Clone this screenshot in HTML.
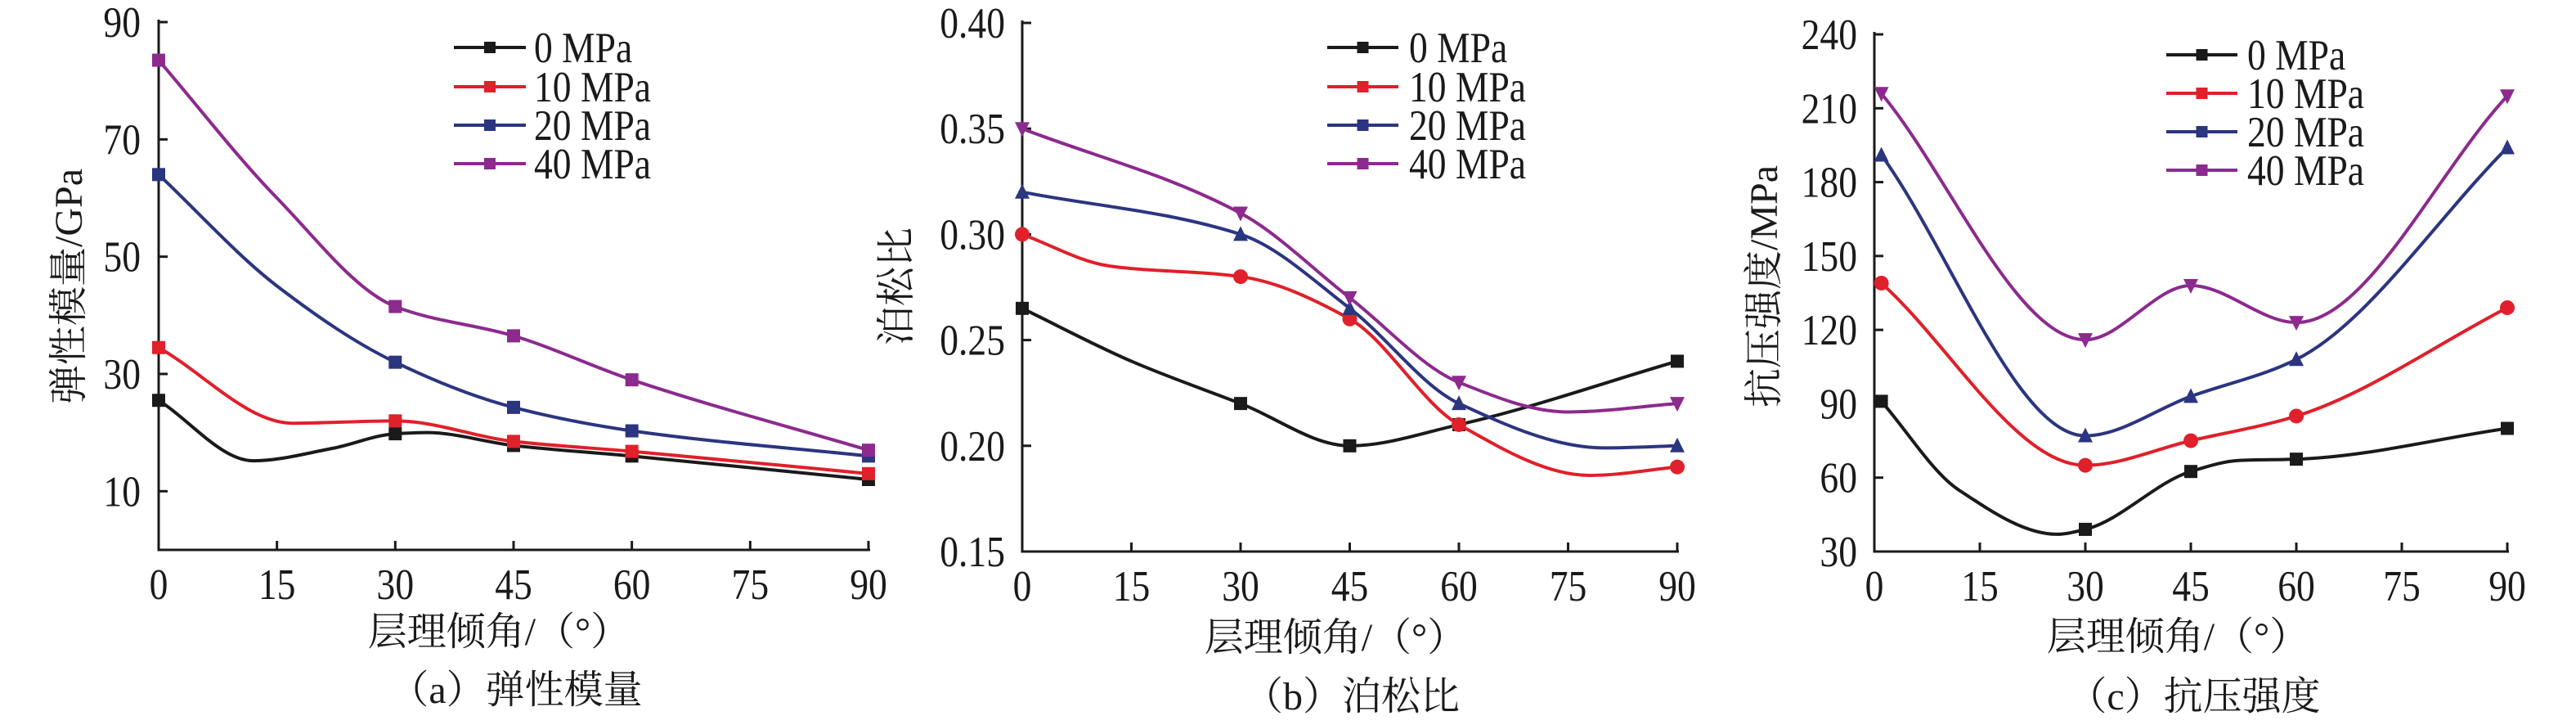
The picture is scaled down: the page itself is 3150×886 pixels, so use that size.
<!DOCTYPE html>
<html><head><meta charset="utf-8">
<style>
html,body{margin:0;padding:0;background:#fff;}
svg{display:block;}
text{font-family:"Liberation Serif","Noto Serif CJK SC",serif;fill:#1a1a1a;}
</style></head>
<body>
<svg id="s" width="3150" height="886" xmlns="http://www.w3.org/2000/svg"></svg>
<script>
const S=document.getElementById('s');
const C=['#1a1a1a','#e0202a','#2b3580','#8c2a8e'];
const names=['0 MPa','10 MPa','20 MPa','40 MPa'];
let h='';
function mono(pts){
  const n=pts.length,dx=[],m=[],t=[];
  for(let i=0;i<n-1;i++){dx[i]=pts[i+1][0]-pts[i][0];m[i]=(pts[i+1][1]-pts[i][1])/dx[i];}
  t[0]=m[0];t[n-1]=m[n-2];
  for(let i=1;i<n-1;i++){
    if(m[i-1]*m[i]<=0)t[i]=0;
    else{const w1=2*dx[i]+dx[i-1],w2=dx[i]+2*dx[i-1];t[i]=(w1+w2)/(w1/m[i-1]+w2/m[i]);}
  }
  let d='M'+pts[0][0]+','+pts[0][1];
  for(let i=0;i<n-1;i++){
    const a=pts[i],b=pts[i+1],q=dx[i]/3;
    d+=' C'+(a[0]+q)+','+(a[1]+t[i]*q)+' '+(b[0]-q)+','+(b[1]-t[i+1]*q)+' '+b[0]+','+b[1];
  }
  return d;
}
function marker(x,y,type,c){
  if(type==='s')return `<rect x="${x-8}" y="${y-8}" width="16" height="16" fill="${c}"/>`;
  if(type==='c')return `<circle cx="${x}" cy="${y}" r="9" fill="${c}"/>`;
  if(type==='u')return `<polygon points="${x},${y-10} ${x-9},${y+8} ${x+9},${y+8}" fill="${c}"/>`;
  return `<polygon points="${x},${y+10} ${x-9},${y-8} ${x+9},${y-8}" fill="${c}"/>`;
}
const K=0.86;
function num(x,y,s,anchor){return `<text transform="scale(${K},1)" x="${x/K}" y="${y}" font-size="53" text-anchor="${anchor}">${s}</text>`;}
function panel(o){
  const X=v=>o.x0+(v-o.xmin)*(o.x1-o.x0)/90;
  const Y=v=>o.yb+(v-o.ymin)*(o.yt-o.yb)/(o.ymax-o.ymin);
  h+=`<path d="M${o.x0},${o.yt-3} V${o.yb} H${o.x1+2}" fill="none" stroke="#1a1a1a" stroke-width="3"/>`;
  for(let v=0;v<=90;v+=15){const x=X(v);h+=`<line x1="${x}" y1="${o.yb}" x2="${x}" y2="${o.yb-11}" stroke="#1a1a1a" stroke-width="3"/>`;
    h+=num(x,o.yb+60,v,'middle');}
  o.yticks.forEach(v=>{const y=Y(v);h+=`<line x1="${o.x0}" y1="${y}" x2="${o.x0+11}" y2="${y}" stroke="#1a1a1a" stroke-width="3"/>`;
    h+=num(o.ylx,y+18,o.fmt(v),'end');});
  o.series.forEach((s,i)=>{
    const pts=s.map(p=>[X(p[0]),Y(p[1])]);
    h+=`<path d="${mono(pts)}" fill="none" stroke="${C[i]}" stroke-width="4"/>`;
    s.forEach(p=>{if(!p[2])h+=marker(X(p[0]),Y(p[1]),o.mk[i],C[i]);});
  });
  o.lrows.forEach((y,i)=>{
    h+=`<line x1="${o.lx0}" y1="${y}" x2="${o.lx1}" y2="${y}" stroke="${C[i]}" stroke-width="4"/>`;
    h+=`<rect x="${(o.lx0+o.lx1)/2-7}" y="${y-7}" width="14" height="14" fill="${C[i]}"/>`;
    h+=num(o.ltx,y+18,names[i],'start');
  });
  h+=`<text x="${o.tx}" y="${o.ty+17}" font-size="48" text-anchor="middle">层理倾角/（°）</text>`;
  h+=`<text x="${o.cx}" y="${o.cy+17}" font-size="48" text-anchor="middle">${o.cap}</text>`;
  h+=`<text transform="translate(${o.yx+16},350) rotate(-90)" font-size="48" text-anchor="middle">${o.ytitle}</text>`;
}
panel({x0:194,x1:1062,xmin:0,yb:672,yt:27,ymin:0,ymax:90,yticks:[10,30,50,70,90],fmt:v=>v,ylx:172,
 series:[
  [[0,25.5],[12,15.2,1],[22,17.3,1],[30,19.8],[34,20,1],[45,17.8],[60,16],[90,12]],
  [[0,34.5],[17,21.6,1],[30,22],[45,18.5],[60,16.8],[90,13]],
  [[0,64],[15,45,1],[30,32],[45,24.3],[60,20.3],[90,16]],
  [[0,83.5],[15,60,1],[30,41.5],[45,36.5],[60,29],[90,17]]],
 mk:['s','s','s','s'],lrows:[58,106,153,200],lx0:555,lx1:643,ltx:653,
 tx:610,ty:771,cx:631,cy:842,cap:'（a）弹性模量',yx:84,ytitle:'弹性模量/GPa'});
panel({x0:1250,x1:2051,xmin:0,yb:674,yt:28,ymin:0.15,ymax:0.40,yticks:[0.15,0.2,0.25,0.3,0.35,0.4],fmt:v=>v.toFixed(2),ylx:1229,
 series:[
  [[0,.265],[15,.24,1],[30,.22],[45,.2],[60,.21],[90,.24]],
  [[0,.30],[12,.285,1],[30,.28],[45,.26],[60,.21],[78,.186,1],[90,.19]],
  [[0,.32],[30,.30],[45,.265],[60,.22],[80,.199,1],[90,.20]],
  [[0,.35],[30,.31],[45,.27],[60,.23],[75,.216,1],[90,.22]]],
 mk:['s','c','u','d'],lrows:[58,106,153,200],lx0:1623,lx1:1710,ltx:1723,
 tx:1633,ty:778,cx:1653,cy:850,cap:'（b）泊松比',yx:1096,ytitle:'泊松比'});
panel({x0:2292,x1:3066,xmin:0,yb:674,yt:42,ymin:30,ymax:240,yticks:[30,60,90,120,150,180,210,240],fmt:v=>v,ylx:2271,
 series:[
  [[1,91],[12,55,1],[26,37,1],[30,39],[45,62.5],[52,67,1],[60,67.5],[90,80]],
  [[1,139],[30,65],[45,75],[60,85],[90,129]],
  [[1,191],[30,77],[45,93],[60,108],[90,194]],
  [[1,216],[30,116],[45,138],[60,123],[90,215]]],
 mk:['s','c','u','d'],lrows:[67,114,161,208],lx0:2649,lx1:2736,ltx:2748,
 tx:2663,ty:777,cx:2683,cy:850,cap:'（c）抗压强度',yx:2157,ytitle:'抗压强度/MPa'});
S.innerHTML=h;
</script>
</body></html>
